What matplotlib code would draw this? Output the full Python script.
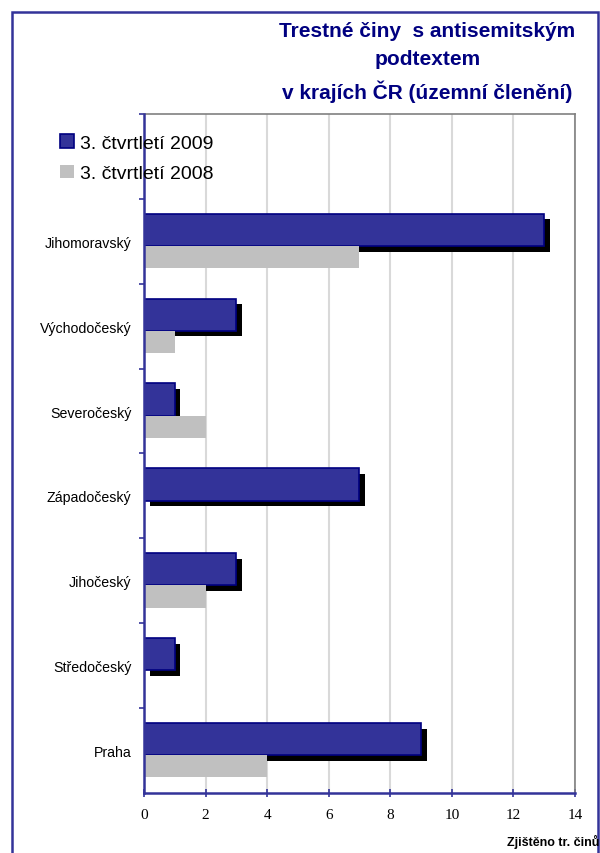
import numpy as np
import matplotlib
matplotlib.use("Agg")
import matplotlib.pyplot as plt
import matplotlib.patheffects as pe
from matplotlib.patches import Patch, Rectangle

# -------------------------
# DATA
# -------------------------
regions = ["Praha", "Středočeský", "Jihočeský", "Západočeský",
           "Severočeský", "Východočeský", "Jihomoravský"]
q3_2009 = [9, 1, 3, 7, 1, 3, 13]
q3_2008 = [4, 0, 2, 0, 2, 1, 7]
x_ticks = [0, 2, 4, 6, 8, 10, 12, 14]

title = "Trestné činy  s antisemitským\npodtextem\nv krajích ČR (územní členění)"
label_2009 = "3. čtvrtletí 2009"
label_2008 = "3. čtvrtletí 2008"

BLUE = "#333399"
NAVY = "#000080"
GRAY = "#C0C0C0"

plt.rcParams["font.family"] = ["Liberation Sans", "DejaVu Sans"]

# -------------------------
# FIGURE
# -------------------------
fig = plt.figure(figsize=(6, 8.54), dpi=100)
ax = fig.add_axes([0.24, 0.0703, 0.7183, 0.795])

y = np.arange(len(regions))

ax.barh(y + 0.135, q3_2009, height=0.38, color=BLUE, edgecolor=NAVY,
        linewidth=1.2, zorder=3,
        path_effects=[pe.SimplePatchShadow(offset=(4, -4), shadow_rgbFace="black",
                                           alpha=1.0), pe.Normal()])
ax.barh(y - 0.185, q3_2008, height=0.26, color=GRAY, edgecolor="none", zorder=4)

ax.set_xlim(0, 14)
ax.set_ylim(-0.5, len(regions) + 0.5)

ax.set_xticks(x_ticks)
ax.set_xticklabels([str(v) for v in x_ticks], family="Liberation Serif", fontsize=11)
ax.set_yticks(y)
ax.set_yticklabels(regions, fontsize=10.2)
ax.set_yticks(np.arange(len(regions) + 1) + 0.5, minor=True)

ax.tick_params(axis="x", direction="inout", length=6, width=1.2, color=BLUE, pad=8)
ax.tick_params(axis="y", which="major", length=0, pad=9)
ax.tick_params(axis="y", which="minor", direction="out", length=3.5, width=1.2, color=BLUE)

ax.grid(axis="x", color="#d9d9d9", linewidth=1.5, zorder=0)
ax.set_axisbelow(True)

for side in ["left", "bottom"]:
    ax.spines[side].set_color(BLUE)
    ax.spines[side].set_linewidth(1.8)
    ax.spines[side].set_zorder(6)
for side in ["top", "right"]:
    ax.spines[side].set_color("#808080")
    ax.spines[side].set_linewidth(1.2)

# -------------------------
# TEXTS
# -------------------------
fig.text(0.7125, 0.974, title, ha="center", va="top", fontsize=15,
         fontweight="bold", color=NAVY, linespacing=1.6)

fig.text(0.999, 0.014, "Zjištěno tr. činů", ha="right", va="center",
         fontsize=9, fontweight="bold")

handles = [Patch(facecolor=BLUE, edgecolor=NAVY, linewidth=1.2),
           Patch(facecolor=GRAY, edgecolor="none")]
fig.legend(handles, [label_2009, label_2008], loc="upper left",
           bbox_to_anchor=(0.1, 0.842), frameon=False, fontsize=14,
           handlelength=0.7, handleheight=0.7, handletextpad=0.35,
           labelspacing=0.68, borderaxespad=0, borderpad=0)

# figure border (open at the bottom)
fig.add_artist(Rectangle((0.02, -0.1), 0.9767, 1.0848, transform=fig.transFigure,
                         fill=False, edgecolor=BLUE, linewidth=1.8))

fig.savefig("out.png", dpi=100)
